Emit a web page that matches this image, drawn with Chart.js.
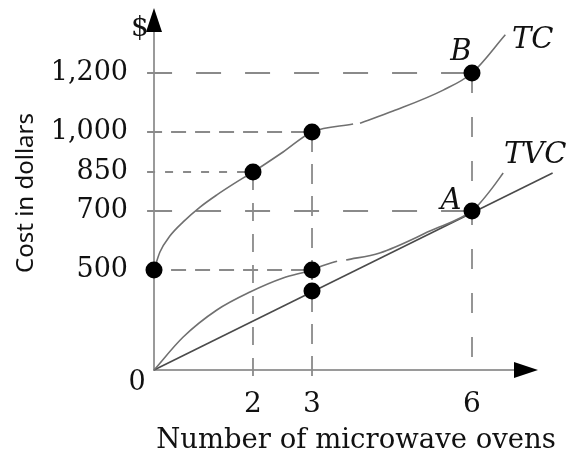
<!DOCTYPE html>
<html>
<head>
<meta charset="utf-8">
<script src="https://cdn.jsdelivr.net/npm/chart.js@4.4.1/dist/chart.umd.min.js"></script>
<style>
  html, body { margin: 0; padding: 0; background: #fff; }
  #wrap { width: 568px; height: 460px; }
</style>
</head>
<body>
<div id="wrap"><canvas id="chart"></canvas></div>
<script>
const xTicks = [2, 3, 6];
const yTicks = [500, 700, 850, 1000, 1200];

// total cost curve (null = small break in the drawn line)
const tcX = [0, 0.12, 0.32, 0.59, 0.93, 1.27, 1.64, 2, 2.51, 3, 3.77, 3.83, 3.9, 4.52, 5.46, 6, 6.62];
const tcY = [500, 561, 615, 663, 715, 762, 808, 850, 925, 1000, 1027, null, 1030, 1071, 1142, 1200, 1329];
// total variable cost curve
const tvcX = [0, 0.59, 1.27, 1.94, 2.51, 3, 3.21, 3.47, 3.55, 3.64, 4.27, 5.21, 6, 6.15, 6.375, 6.58];
const tvcY = [0, 165, 300, 390, 460, 500, 515, 530, null, 534, 558, 632, 700, 731, 788, 846];
// ray from the origin through A
const rayX = [0, 7.5];
const rayY = [0, 846];
// marked points
const dotX = [0, 2, 3, 6, 3, 3, 6];
const dotY = [500, 850, 1000, 1200, 500, 395, 700];
// dashed guide lines
const hGuideY = [1200, 1000, 850, 700, 500];
const hGuideTo = [6, 3, 2, 6, 3];
const vGuideX = [2, 3, 6];
const vGuideTo = [850, 1000, 1200];

const hDash = [[25, 24], [15, 9], [8, 10], [25, 24], [15, 9]];
const vDash = [[18, 13], [20, 12], [20, 24]];

// the drawing is not to scale, so the axes are piecewise linear
class WarpScale extends Chart.LinearScale {
  toDecimal(v) {
    const k = this.options.knots;
    let i = 1;
    while (i < k.length - 1 && v > k[i][0]) i++;
    const a = k[i - 1], b = k[i];
    return a[1] + (v - a[0]) * (b[1] - a[1]) / (b[0] - a[0]);
  }
  fromDecimal(d) {
    const k = this.options.knots;
    let i = 1;
    while (i < k.length - 1 && d > k[i][1]) i++;
    const a = k[i - 1], b = k[i];
    return a[0] + (d - a[1]) * (b[0] - a[0]) / (b[1] - a[1]);
  }
  getPixelForValue(value) {
    return value === null || value === undefined ? NaN : this.getPixelForDecimal(this.toDecimal(value));
  }
  getValueForPixel(pixel) {
    return this.fromDecimal(this.getDecimalForPixel(pixel));
  }
}
WarpScale.id = 'warp';
WarpScale.defaults = { ...Chart.LinearScale.defaults };
Chart.register(WarpScale);

const pts = (xs, ys) => xs.map((x, i) => ({ x, y: ys[i] }));

const guides = [];
hGuideY.forEach((y, i) => {
  guides.push({
    data: [{ x: -0.14, y }, { x: hGuideTo[i], y }],
    borderColor: '#8a8a8a', borderWidth: 1.8, borderDash: hDash[i],
    pointRadius: 0, clip: false, order: 5,
  });
});
vGuideX.forEach((x, i) => {
  guides.push({
    data: [{ x, y: vGuideTo[i] }, { x, y: -50 }],
    borderColor: '#8a8a8a', borderWidth: 1.8, borderDash: vDash[i],
    pointRadius: 0, clip: false, order: 5,
  });
});

const decor = {
  id: 'decor',
  afterDraw(chart) {
    const { ctx, chartArea: a, scales: { x, y } } = chart;
    ctx.save();
    ctx.fillStyle = '#000';
    ctx.beginPath();
    ctx.moveTo(a.left, a.top - 22);
    ctx.lineTo(a.left - 8, a.top + 2);
    ctx.lineTo(a.left + 8, a.top + 2);
    ctx.closePath();
    ctx.fill();
    ctx.beginPath();
    ctx.moveTo(a.right + 23, a.bottom);
    ctx.lineTo(a.right - 1, a.bottom - 8);
    ctx.lineTo(a.right - 1, a.bottom + 8);
    ctx.closePath();
    ctx.fill();

    ctx.fillStyle = '#111';
    ctx.textBaseline = 'middle';
    ctx.textAlign = 'center';
    ctx.font = '28px "DejaVu Serif"';
    ctx.fillText('$', a.left - 14, a.top - 1);
    ctx.font = '27px "DejaVu Serif"';
    ctx.fillText('0', a.left - 17, a.bottom + 13);
    ctx.font = 'italic 29px "DejaVu Serif"';
    ctx.fillText('B', x.getPixelForValue(6) - 11, y.getPixelForValue(1200) - 21);
    ctx.fillText('A', x.getPixelForValue(6) - 21, y.getPixelForValue(700) - 10);
    ctx.textAlign = 'left';
    ctx.fillText('TC', 512, 40);
    ctx.fillText('TVC', 504, 155);
    ctx.textAlign = 'center';
    ctx.font = '27.5px "DejaVu Serif"';
    ctx.fillText('Number of microwave ovens', 356, 441);
    ctx.save();
    ctx.translate(26, 193);
    ctx.rotate(-Math.PI / 2);
    ctx.font = '24px "Noto Sans"';
    ctx.fillText('Cost in dollars', 0, 0);
    ctx.restore();
    ctx.restore();
  }
};

new Chart(document.getElementById('chart'), {
  type: 'line',
  data: {
    datasets: [
      { data: pts(dotX, dotY), showLine: false, pointRadius: 8.5, pointBackgroundColor: '#000', pointBorderWidth: 0, clip: false, order: 0 },
      { data: pts(tcX, tcY), borderColor: '#707070', borderWidth: 1.6, pointRadius: 0, cubicInterpolationMode: 'monotone', spanGaps: false, clip: false, order: 2 },
      { data: pts(tvcX, tvcY), borderColor: '#707070', borderWidth: 1.6, pointRadius: 0, cubicInterpolationMode: 'monotone', spanGaps: false, clip: false, order: 2 },
      { data: pts(rayX, rayY), borderColor: '#4a4a4a', borderWidth: 1.6, pointRadius: 0, clip: false, order: 3 },
      ...guides,
    ],
  },
  options: {
    responsive: true,
    maintainAspectRatio: false,
    animation: false,
    layout: { padding: { top: 30, right: 53, left: 0, bottom: 0 } },
    plugins: { legend: { display: false }, tooltip: { enabled: false } },
    scales: {
      x: {
        type: 'warp',
        min: 0, max: 6.8,
        knots: [[0, 0], [2, 0.2742], [3, 0.4377], [6, 0.8809], [6.8, 1]],
        afterBuildTicks: (s) => { s.ticks = xTicks.map((v) => ({ value: v })); },
        afterFit: (s) => { s.height = 90; s.paddingLeft = 0; s.paddingRight = 0; },
        grid: { display: false, drawTicks: false },
        border: { display: true, color: '#9a9a9a', width: 2 },
        ticks: { color: '#111', font: { family: 'DejaVu Serif', size: 28 }, padding: 18, maxRotation: 0, autoSkip: false },
      },
      y: {
        type: 'warp',
        min: 0, max: 1345,
        knots: [[0, 0], [500, 0.2941], [700, 0.4676], [850, 0.5824], [1000, 0.7], [1200, 0.8735], [1345, 1]],
        afterBuildTicks: (s) => { s.ticks = yTicks.map((v) => ({ value: v })); },
        afterFit: (s) => { s.width = 154; s.paddingTop = 0; s.paddingBottom = 0; },
        grid: { display: false, drawTicks: false },
        border: { display: true, color: '#9a9a9a', width: 2 },
        ticks: { color: '#111', font: { family: 'DejaVu Serif', size: 27 }, padding: 26, autoSkip: false,
          callback: (v) => v.toLocaleString('en-US') },
      },
    },
  },
  plugins: [decor],
});
</script>
</body>
</html>
